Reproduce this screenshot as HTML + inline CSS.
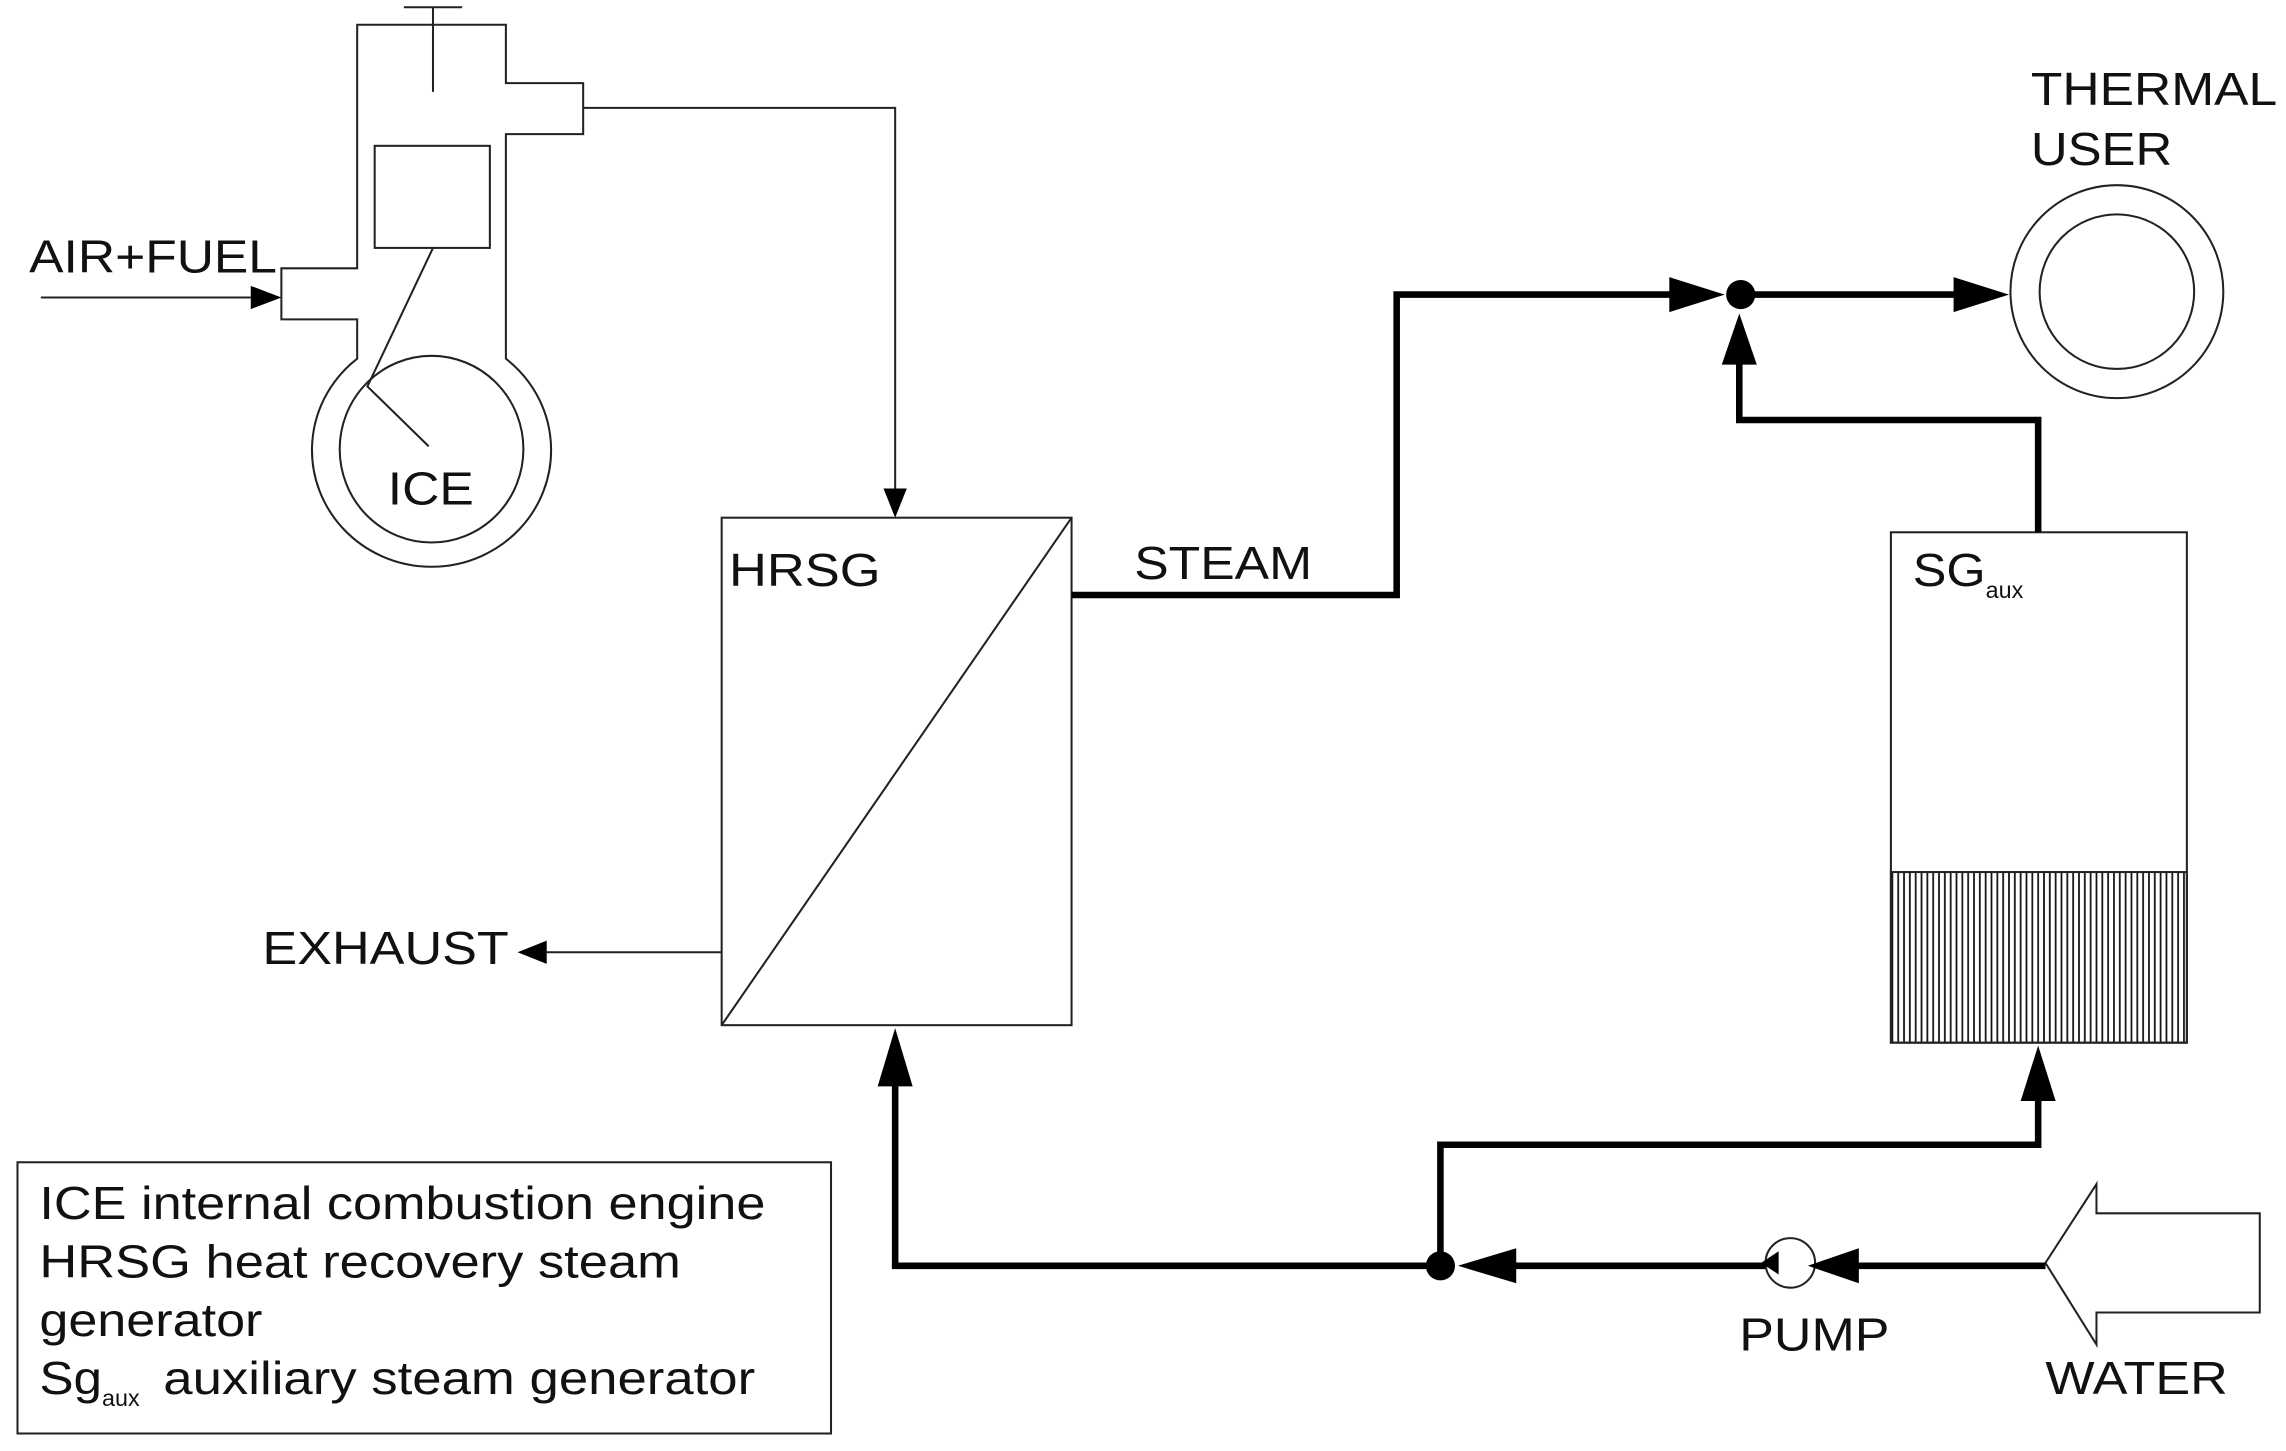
<!DOCTYPE html>
<html><head><meta charset="utf-8"><style>
html,body{margin:0;padding:0;background:#fff;}
svg{display:block}
text{font-family:"Liberation Sans",sans-serif;fill:#111;}
</style></head><body>
<svg width="2286" height="1451" viewBox="0 0 1568 995" preserveAspectRatio="none" xmlns="http://www.w3.org/2000/svg">
<defs>
<pattern id="h" x="1297" y="0" width="4" height="10" patternUnits="userSpaceOnUse">
<rect width="4" height="10" fill="#fff"/><line x1="1" y1="0" x2="1" y2="10" stroke="#111" stroke-width="1.2"/>
</pattern>
</defs>
<g fill="none" stroke="#222" stroke-width="1.4">
<path d="M245,240 L245,219 L193,219 L193,184 L245,184 L245,17 L347,17 L347,57 L400,57 L400,92 L347,92 L347,240"/>
<path d="M245,240 L245,246 A82 80 0 1 0 347,246 L347,240"/>
<ellipse cx="296" cy="308" rx="63" ry="64"/>
<rect x="257" y="100" width="79" height="70"/>
<path d="M297,170 L252,265 L294,306"/>
<path d="M277,5 L317,5 M297,5 L297,63"/>
<path d="M400,74 L614,74 L614,335"/>
<path d="M28,204 L172,204"/>
<rect x="495" y="355" width="240" height="348"/>
<path d="M495,703 L735,355"/>
<path d="M495,653 L375,653"/>
<circle cx="1452" cy="200" r="73"/>
<circle cx="1452" cy="200" r="53"/>
<rect x="12" y="797" width="558" height="186"/>
<path d="M1403,866 L1438,812 L1438,832 L1550,832 L1550,900 L1438,900 L1438,922 Z"/>
<circle cx="1228" cy="866" r="17"/>
</g>
<rect x="1297" y="598" width="203" height="117" fill="url(#h)" stroke="#222" stroke-width="1.4"/>
<rect x="1297" y="365" width="203" height="350" fill="none" stroke="#222" stroke-width="1.4"/>
<g fill="none" stroke="#000" stroke-width="4.5">
<path d="M735,408 L958,408 L958,202 L1150,202"/>
<path d="M1194,202 L1345,202"/>
<path d="M1398,365 L1398,288 L1193,288 L1193,248"/>
<path d="M1398,755 L1398,785 L988,785 L988,868"/>
<path d="M1403,868 L1272,868"/>
<path d="M1211,868 L1038,868"/>
<path d="M988,868 L614,868 L614,743"/>
</g>
<g fill="#000">
<polygon points="172,196 193,204 172,212"/>
<polygon points="606,335 614,355 622,335"/>
<polygon points="375,645 355,653 375,661"/>
<polygon points="1145,190 1183,202 1145,214"/>
<polygon points="1340,190 1378,202 1340,214"/>
<polygon points="1181,250 1193,215 1205,250"/>
<polygon points="1386,755 1398,717 1410,755"/>
<polygon points="1275,856 1240,868 1275,880"/>
<polygon points="1040,856 1000,868 1040,880"/>
<polygon points="602,745 614,705 626,745"/>
<polygon points="1220,858 1208,866 1220,874"/>
<circle cx="1194" cy="202" r="10"/>
<circle cx="988" cy="868" r="10"/>
</g>
<g font-size="32">
<text x="20" y="187" textLength="170" lengthAdjust="spacingAndGlyphs">AIR+FUEL</text>
<text x="266" y="346" textLength="59" lengthAdjust="spacingAndGlyphs">ICE</text>
<text x="500" y="402" textLength="104" lengthAdjust="spacingAndGlyphs">HRSG</text>
<text x="180" y="661" textLength="169" lengthAdjust="spacingAndGlyphs">EXHAUST</text>
<text x="778" y="397" textLength="122" lengthAdjust="spacingAndGlyphs">STEAM</text>
<text x="1393" y="72" textLength="169" lengthAdjust="spacingAndGlyphs">THERMAL</text>
<text x="1393" y="113" textLength="97" lengthAdjust="spacingAndGlyphs">USER</text>
<text x="1312" y="402"><tspan textLength="50" lengthAdjust="spacingAndGlyphs">SG</tspan><tspan font-size="16" dy="8">aux</tspan></text>
<text x="1193" y="926" textLength="103" lengthAdjust="spacingAndGlyphs">PUMP</text>
<text x="1403" y="956" textLength="125" lengthAdjust="spacingAndGlyphs">WATER</text>
<text x="27" y="836" textLength="498" lengthAdjust="spacingAndGlyphs">ICE internal combustion engine</text>
<text x="27" y="876" textLength="440" lengthAdjust="spacingAndGlyphs">HRSG heat recovery steam</text>
<text x="27" y="916" textLength="153" lengthAdjust="spacingAndGlyphs">generator</text>
<text x="27" y="956"><tspan textLength="43" lengthAdjust="spacingAndGlyphs">Sg</tspan><tspan font-size="16" dy="8">aux</tspan></text>
<text x="112" y="956" textLength="406" lengthAdjust="spacingAndGlyphs">auxiliary steam generator</text>
</g>
</svg>
</body></html>
